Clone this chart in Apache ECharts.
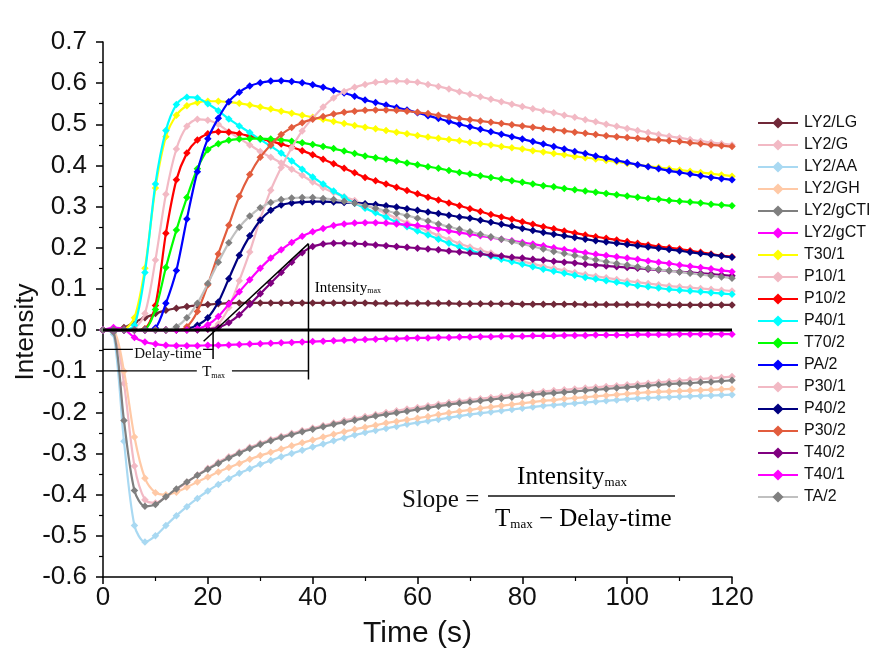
<!DOCTYPE html>
<html><head><meta charset="utf-8">
<script src="https://cdn.jsdelivr.net/npm/echarts@6/dist/echarts.min.js"></script>
<style>html,body{margin:0;padding:0;background:#fff}#c{width:871px;height:653px}</style>
</head><body><div id="c"></div>
<script>
const time = [0,2,4,6,8,10,12,14,16,18,20,22,24,26,28,30,32,34,36,38,40,42,44,46,48,50,52,54,56,58,60,62,64,66,68,70,72,74,76,78,80,82,84,86,88,90,92,94,96,98,100,102,104,106,108,110,112,114,116,118,120];
const LY2_LG = [0,0.001,0.006,0.019,0.030,0.040,0.048,0.053,0.057,0.060,0.062,0.064,0.065,0.066,0.066,0.066,0.066,0.066,0.066,0.066,0.066,0.066,0.066,0.066,0.066,0.066,0.065,0.065,0.065,0.065,0.065,0.065,0.065,0.065,0.064,0.064,0.064,0.064,0.064,0.064,0.063,0.063,0.063,0.063,0.063,0.063,0.062,0.062,0.062,0.062,0.062,0.062,0.062,0.061,0.061,0.061,0.061,0.061,0.061,0.061,0.061];
const LY2_G = [0,-0.003,-0.13,-0.33,-0.412,-0.42,-0.405,-0.388,-0.37,-0.352,-0.336,-0.321,-0.308,-0.296,-0.285,-0.275,-0.266,-0.258,-0.251,-0.244,-0.238,-0.232,-0.226,-0.22,-0.215,-0.21,-0.205,-0.2,-0.196,-0.192,-0.188,-0.184,-0.18,-0.176,-0.173,-0.17,-0.167,-0.164,-0.161,-0.158,-0.155,-0.152,-0.149,-0.147,-0.145,-0.143,-0.141,-0.139,-0.137,-0.135,-0.133,-0.131,-0.129,-0.127,-0.125,-0.123,-0.121,-0.119,-0.117,-0.115,-0.113];
const LY2_AA = [0,-0.01,-0.27,-0.475,-0.515,-0.5,-0.475,-0.451,-0.429,-0.409,-0.391,-0.375,-0.361,-0.348,-0.337,-0.326,-0.317,-0.308,-0.3,-0.292,-0.284,-0.277,-0.269,-0.262,-0.255,-0.249,-0.244,-0.239,-0.234,-0.229,-0.225,-0.221,-0.217,-0.213,-0.209,-0.205,-0.202,-0.199,-0.196,-0.193,-0.19,-0.187,-0.184,-0.182,-0.18,-0.178,-0.176,-0.174,-0.172,-0.17,-0.168,-0.166,-0.165,-0.164,-0.163,-0.162,-0.161,-0.16,-0.159,-0.158,-0.157];
const LY2_GH = [0,-0.002,-0.1,-0.26,-0.36,-0.395,-0.4,-0.394,-0.382,-0.369,-0.357,-0.345,-0.334,-0.324,-0.314,-0.305,-0.297,-0.289,-0.281,-0.274,-0.267,-0.26,-0.253,-0.247,-0.241,-0.236,-0.231,-0.226,-0.222,-0.218,-0.214,-0.21,-0.205,-0.201,-0.197,-0.194,-0.19,-0.187,-0.184,-0.181,-0.178,-0.175,-0.172,-0.17,-0.167,-0.165,-0.163,-0.161,-0.159,-0.157,-0.155,-0.153,-0.151,-0.15,-0.149,-0.148,-0.147,-0.146,-0.145,-0.144,-0.143];
const LY2_gCTI = [0,-0.005,-0.22,-0.39,-0.428,-0.424,-0.405,-0.386,-0.369,-0.353,-0.338,-0.324,-0.311,-0.299,-0.288,-0.278,-0.269,-0.261,-0.254,-0.247,-0.241,-0.235,-0.229,-0.224,-0.219,-0.214,-0.209,-0.205,-0.201,-0.197,-0.193,-0.189,-0.185,-0.181,-0.178,-0.175,-0.172,-0.169,-0.166,-0.163,-0.16,-0.157,-0.155,-0.153,-0.151,-0.149,-0.147,-0.145,-0.143,-0.141,-0.139,-0.137,-0.135,-0.133,-0.131,-0.13,-0.129,-0.127,-0.126,-0.124,-0.122];
const LY2_gCT = [0,0.006,0.002,-0.018,-0.029,-0.034,-0.037,-0.038,-0.038,-0.038,-0.037,-0.037,-0.036,-0.035,-0.034,-0.033,-0.032,-0.031,-0.03,-0.029,-0.028,-0.027,-0.026,-0.025,-0.024,-0.023,-0.022,-0.021,-0.021,-0.02,-0.019,-0.019,-0.018,-0.018,-0.017,-0.017,-0.016,-0.016,-0.015,-0.015,-0.015,-0.014,-0.014,-0.014,-0.013,-0.013,-0.013,-0.012,-0.012,-0.012,-0.012,-0.011,-0.011,-0.011,-0.011,-0.01,-0.01,-0.01,-0.01,-0.01,-0.01];
const T30_1 = [0,0,0.002,0.03,0.15,0.345,0.47,0.522,0.545,0.553,0.556,0.556,0.554,0.551,0.547,0.542,0.537,0.532,0.527,0.522,0.517,0.512,0.507,0.502,0.497,0.493,0.489,0.485,0.481,0.477,0.473,0.469,0.466,0.463,0.46,0.456,0.453,0.45,0.446,0.443,0.44,0.436,0.433,0.429,0.426,0.422,0.419,0.416,0.412,0.409,0.405,0.402,0.398,0.395,0.392,0.389,0.386,0.383,0.38,0.377,0.374];
const P10_1 = [0,0,0,0.005,0.04,0.17,0.33,0.44,0.495,0.512,0.51,0.5,0.482,0.466,0.45,0.434,0.42,0.406,0.391,0.376,0.36,0.346,0.334,0.324,0.315,0.305,0.294,0.283,0.272,0.261,0.25,0.24,0.23,0.22,0.21,0.202,0.194,0.187,0.18,0.173,0.167,0.161,0.155,0.15,0.145,0.14,0.135,0.131,0.127,0.123,0.119,0.116,0.113,0.11,0.107,0.105,0.103,0.101,0.099,0.097,0.095];
const P10_2 = [0,0,0,0,0.003,0.06,0.235,0.365,0.43,0.462,0.477,0.482,0.481,0.477,0.471,0.465,0.459,0.452,0.445,0.436,0.426,0.415,0.404,0.393,0.382,0.371,0.363,0.355,0.347,0.339,0.331,0.323,0.316,0.309,0.302,0.295,0.288,0.281,0.275,0.269,0.263,0.257,0.251,0.246,0.241,0.236,0.231,0.227,0.223,0.219,0.215,0.211,0.207,0.203,0.2,0.197,0.193,0.189,0.185,0.181,0.178];
const P40_1 = [0,0,0,0.012,0.14,0.355,0.485,0.548,0.566,0.564,0.55,0.533,0.513,0.496,0.48,0.463,0.447,0.43,0.411,0.391,0.372,0.355,0.338,0.323,0.308,0.296,0.285,0.274,0.262,0.251,0.241,0.231,0.221,0.211,0.202,0.194,0.186,0.179,0.172,0.166,0.16,0.154,0.148,0.143,0.138,0.133,0.128,0.124,0.12,0.116,0.112,0.108,0.105,0.102,0.099,0.097,0.095,0.093,0.091,0.089,0.087];
const T70_2 = [0,0,0,0,0.002,0.05,0.152,0.243,0.322,0.392,0.438,0.453,0.461,0.464,0.465,0.465,0.464,0.462,0.459,0.455,0.451,0.446,0.441,0.435,0.429,0.423,0.419,0.415,0.411,0.406,0.402,0.397,0.393,0.388,0.383,0.379,0.375,0.371,0.367,0.363,0.359,0.355,0.351,0.348,0.344,0.341,0.338,0.335,0.332,0.329,0.326,0.323,0.32,0.318,0.315,0.313,0.311,0.309,0.306,0.304,0.302];
const PA_2 = [0,0,0,0,0,0.005,0.065,0.145,0.27,0.385,0.465,0.515,0.555,0.578,0.593,0.601,0.605,0.606,0.604,0.601,0.596,0.59,0.583,0.576,0.568,0.559,0.553,0.547,0.541,0.535,0.528,0.521,0.514,0.507,0.5,0.494,0.488,0.482,0.476,0.47,0.464,0.458,0.452,0.446,0.44,0.434,0.429,0.423,0.418,0.412,0.407,0.402,0.397,0.392,0.387,0.383,0.379,0.375,0.371,0.368,0.365];
const P30_1 = [0,0,0,0,0,0,0,0,0,0,0.002,0.015,0.055,0.12,0.19,0.27,0.34,0.395,0.443,0.484,0.515,0.542,0.564,0.58,0.59,0.597,0.602,0.604,0.605,0.604,0.602,0.597,0.592,0.586,0.579,0.573,0.567,0.561,0.555,0.549,0.543,0.538,0.533,0.528,0.522,0.517,0.511,0.506,0.5,0.495,0.49,0.485,0.48,0.475,0.471,0.467,0.463,0.459,0.456,0.453,0.45];
const P40_2 = [0,0,0,0,0,0,0,0,0.003,0.012,0.03,0.068,0.125,0.182,0.229,0.267,0.291,0.304,0.309,0.311,0.312,0.312,0.311,0.31,0.309,0.307,0.305,0.302,0.299,0.295,0.291,0.287,0.283,0.279,0.275,0.272,0.267,0.262,0.257,0.252,0.247,0.242,0.237,0.233,0.229,0.225,0.221,0.217,0.214,0.211,0.208,0.205,0.202,0.199,0.196,0.193,0.189,0.186,0.183,0.18,0.177];
const P30_2 = [0,0,0,0,0,0,0,0,0.008,0.045,0.11,0.185,0.255,0.325,0.378,0.42,0.45,0.475,0.492,0.504,0.512,0.519,0.525,0.529,0.532,0.534,0.535,0.535,0.534,0.532,0.529,0.526,0.522,0.518,0.514,0.511,0.508,0.505,0.502,0.499,0.496,0.493,0.49,0.487,0.484,0.481,0.478,0.475,0.472,0.47,0.468,0.466,0.464,0.462,0.46,0.458,0.455,0.453,0.45,0.448,0.446];
const T40_2 = [0,0,0,0,0,0,0,0,0,0,0.002,0.006,0.018,0.037,0.062,0.088,0.114,0.14,0.165,0.188,0.203,0.209,0.211,0.211,0.21,0.209,0.207,0.205,0.203,0.201,0.199,0.197,0.195,0.192,0.19,0.187,0.185,0.182,0.18,0.177,0.175,0.172,0.17,0.167,0.165,0.163,0.16,0.158,0.156,0.154,0.152,0.15,0.148,0.146,0.144,0.142,0.14,0.138,0.136,0.134,0.132];
const T40_1 = [0,0,0,0,0,0,0,0,0,0.003,0.013,0.033,0.063,0.093,0.122,0.15,0.175,0.195,0.213,0.228,0.239,0.247,0.254,0.258,0.26,0.261,0.261,0.26,0.258,0.256,0.254,0.251,0.246,0.241,0.237,0.233,0.229,0.225,0.221,0.217,0.213,0.209,0.205,0.2,0.196,0.192,0.188,0.184,0.181,0.178,0.175,0.172,0.168,0.165,0.162,0.158,0.155,0.152,0.149,0.145,0.142];
const TA_2 = [0,0,0,0,0,0,0,0.008,0.03,0.065,0.113,0.165,0.212,0.25,0.277,0.297,0.31,0.317,0.321,0.322,0.322,0.32,0.317,0.313,0.308,0.302,0.296,0.29,0.284,0.278,0.272,0.265,0.258,0.251,0.245,0.239,0.233,0.227,0.221,0.215,0.209,0.203,0.197,0.191,0.186,0.181,0.176,0.171,0.166,0.162,0.158,0.154,0.15,0.147,0.144,0.141,0.138,0.135,0.132,0.129,0.126];

const seriesNames = ['LY2/LG','LY2/G','LY2/AA','LY2/GH','LY2/gCTI','LY2/gCT','T30/1','P10/1','P10/2','P40/1','T70/2','PA/2','P30/1','P40/2','P30/2','T40/2','T40/1','TA/2'];
const seriesValues = [LY2_LG,LY2_G,LY2_AA,LY2_GH,LY2_gCTI,LY2_gCT,T30_1,P10_1,P10_2,P40_1,T70_2,PA_2,P30_1,P40_2,P30_2,T40_2,T40_1,TA_2];
const lineColors = ['#702838','#F2B9C4','#A9D9F2','#FFC9A6','#7F7F7F','#FF00FF','#FFFF00','#F2B9C4','#FF0000','#00FFFF','#00FF00','#0000FF','#F2B9C4','#000080','#E25C3D','#800080','#FF00FF','#C0C0C0'];
const markColors = ['#702838','#F2B9C4','#A9D9F2','#FFC9A6','#7F7F7F','#FF00FF','#FFFF00','#F2B9C4','#FF0000','#00FFFF','#00FF00','#0000FF','#F2B9C4','#000080','#E25C3D','#800080','#FF00FF','#808080'];

// annotation geometry (data coordinates)
const zeroLine = [[0,0],[120,0]];
const tangentLine = [[19.2,-0.027],[39.2,0.21]];
const tmaxVertical = [[39.2,0.21],[39.2,-0.12]];
const delayVertical = [[21,0],[21,-0.07]];
const delayHorizA = [[0,-0.047],[5.7,-0.047]];
const delayHorizB = [[19.1,-0.047],[21,-0.047]];
const tmaxHorizA = [[0,-0.099],[17.9,-0.099]];
const tmaxHorizB = [[24.6,-0.099],[39.2,-0.099]];
const delayLabelAt = [12.4,-0.058];
const tmaxLabelAt = [21.1,-0.103];
const intensityLabelAt = [40.4,0.103];

const SANS = '"Liberation Sans",Arial,sans-serif';
const SERIF = '"Liberation Serif","Times New Roman",serif';

const chart = echarts.init(document.getElementById('c'), null, {renderer:'canvas'});

const series = seriesNames.map((name,i)=>({
  name, type:'line',
  data: time.map((t,j)=>[t, seriesValues[i][j]]),
  symbol:'diamond', symbolSize:7.5, showSymbol:true,
  smooth:0.3,
  lineStyle:{color:lineColors[i], width:2.2},
  itemStyle:{color:markColors[i]},
  emphasis:{disabled:true},
  z:2+i*0.01
}));

function annot(data, width){
  return {type:'line', data, symbol:'none', silent:true, animation:false,
    lineStyle:{color:'#000', width}, itemStyle:{color:'#000'}, z:5, legendHoverLink:false, tooltip:{show:false}};
}
series.push(annot(zeroLine,3));
series.push(annot(tangentLine,1.5));
series.push(annot(tmaxVertical,1.5));
series.push(annot(delayVertical,1.5));
series.push(annot(delayHorizA,1.2));
series.push(annot(delayHorizB,1.2));
series.push(annot(tmaxHorizA,1.2));
series.push(annot(tmaxHorizB,1.2));

const option = {
  animation:false,
  backgroundColor:'#fff',
  grid:{left:103,right:139,top:42,bottom:76,containLabel:false,outerBoundsMode:'none'},
  legend:{
    data:seriesNames, orient:'vertical', left:752, top:110,
    itemWidth:40, itemHeight:14, itemGap:6,
    textStyle:{fontFamily:SANS, fontSize:16, lineHeight:16, color:'#111', padding:[0,0,0,1]},
    selectedMode:false
  },
  xAxis:{
    type:'value', min:0, max:120, interval:20,
    name:'Time (s)', nameLocation:'middle', nameGap:42,
    nameTextStyle:{fontFamily:SANS, fontSize:30, color:'#111'},
    axisLine:{show:true, onZero:false, lineStyle:{color:'#000', width:1.5}},
    axisTick:{show:true, inside:false, length:7, lineStyle:{color:'#000', width:1.5}},
    minorTick:{show:true, splitNumber:2, length:4, lineStyle:{color:'#000', width:1.2}},
    axisLabel:{fontFamily:SANS, fontSize:26, color:'#111', margin:8},
    splitLine:{show:false}
  },
  yAxis:{
    type:'value', min:-0.6, max:0.7, interval:0.1,
    axisLine:{show:true, onZero:false, lineStyle:{color:'#000', width:1.5}},
    axisTick:{show:true, inside:false, length:7, lineStyle:{color:'#000', width:1.5}},
    minorTick:{show:true, splitNumber:2, length:4, lineStyle:{color:'#000', width:1.2}},
    axisLabel:{fontFamily:SANS, fontSize:26, color:'#111', margin:16,
      formatter:v=>(Math.abs(v)<1e-9?0:v).toFixed(1)},
    splitLine:{show:false}
  },
  series
};
chart.setOption(option);

const toPx = p => chart.convertToPixel({gridIndex:0}, p);
const dP = toPx(delayLabelAt), tP = toPx(tmaxLabelAt), iP = toPx(intensityLabelAt);
const subRich = {
  a:{fontFamily:SERIF, fontSize:15, color:'#111'},
  b:{fontFamily:SERIF, fontSize:8, color:'#111', padding:[7,0,0,0]},
  A:{fontFamily:SERIF, fontSize:25, color:'#111'},
  B:{fontFamily:SERIF, fontSize:13, color:'#111', padding:[12,0,0,0]}
};
chart.setOption({graphic:[
  {type:'text', x:26, y:332, rotation:Math.PI/2, z:100, style:{text:'Intensity', font:'26px '+SANS, fill:'#111', align:'center', verticalAlign:'middle'}},
  {type:'text', x:dP[0], y:dP[1], z:100, style:{text:'Delay-time', font:'15px '+SERIF, fill:'#111', align:'center', verticalAlign:'middle'}},
  {type:'text', x:tP[0], y:tP[1], z:100, style:{text:'{a|T}{b|max}', rich:subRich, align:'center', verticalAlign:'middle'}},
  {type:'text', x:iP[0], y:iP[1], z:100, style:{text:'{a|Intensity}{b|max}', rich:subRich, align:'left', verticalAlign:'middle'}},
  {type:'text', x:402, y:500, z:100, style:{text:'Slope =', font:'25px '+SERIF, fill:'#111', align:'left', verticalAlign:'middle'}},
  {type:'text', x:572, y:477, z:100, style:{text:'{A|Intensity}{B|max}', rich:subRich, align:'center', verticalAlign:'middle'}},
  {type:'line', z:100, shape:{x1:488,y1:496,x2:675,y2:496}, style:{stroke:'#111', lineWidth:1.5}},
  {type:'text', x:495, y:519, z:100, style:{text:'{A|T}{B|max}{A| \u2212 Delay-time}', rich:subRich, align:'left', verticalAlign:'middle'}}
]});
</script></body></html>
